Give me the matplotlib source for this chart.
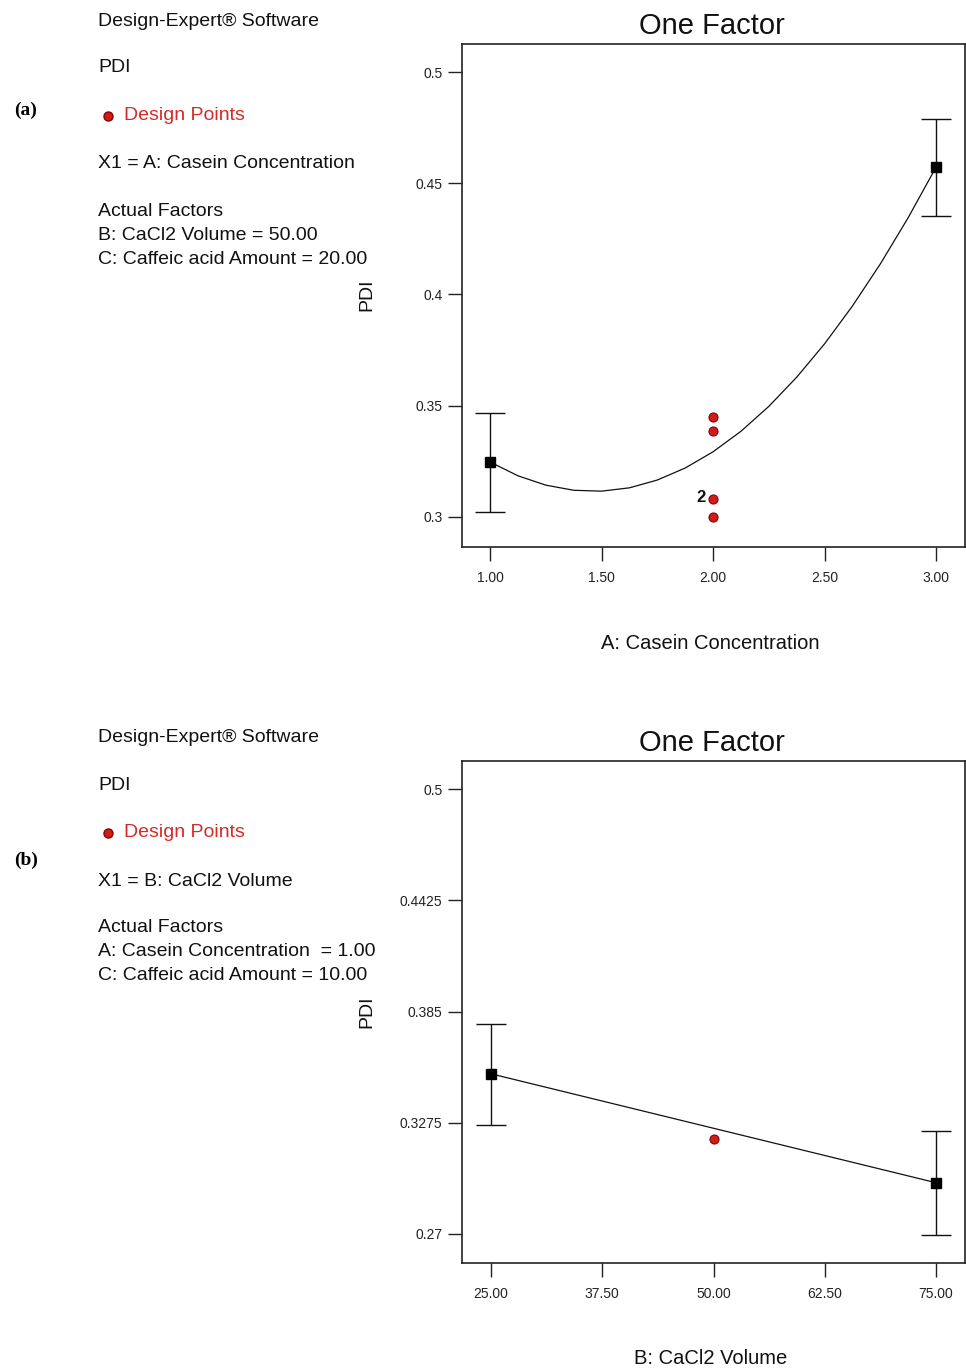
import matplotlib.pyplot as plt
from matplotlib.lines import Line2D

plt.rcParams['font.family'] = ['Liberation Sans', 'DejaVu Sans']

# panel (a): PDI vs A: Casein Concentration
a_xticks = [1.00, 1.50, 2.00, 2.50, 3.00]
a_yticks = [0.3, 0.35, 0.4, 0.45, 0.5]
a_curve_x = [1.0, 1.125, 1.25, 1.375, 1.5, 1.625, 1.75, 1.875, 2.0,
             2.125, 2.25, 2.375, 2.5, 2.625, 2.75, 2.875, 3.0]
a_curve_y = [0.3247, 0.3185, 0.3143, 0.3120, 0.3116, 0.3131, 0.3166, 0.3220, 0.3293,
             0.3385, 0.3497, 0.3628, 0.3778, 0.3948, 0.4137, 0.4345, 0.4572]
a_mean_x = [1.0, 3.0]
a_mean_y = [0.3247, 0.4572]
a_ci_lo = [0.3022, 0.4352]
a_ci_hi = [0.3467, 0.4788]
a_pts_x = [2.0, 2.0, 2.0, 2.0]
a_pts_y = [0.3449, 0.3387, 0.3081, 0.3001]

# panel (b): PDI vs B: CaCl2 Volume
b_xticks = [25.00, 37.50, 50.00, 62.50, 75.00]
b_yticks = [0.27, 0.3275, 0.385, 0.4425, 0.5]
b_ytick_labels = ['0.27', '0.3275', '0.385', '0.4425', '0.5']
b_line_x = [25.0, 75.0]
b_line_y = [0.3528, 0.2965]
b_ci_lo = [0.3265, 0.2695]
b_ci_hi = [0.3787, 0.3234]
b_pts_x = [50.0]
b_pts_y = [0.3191]

W, H = 966, 1372
fig = plt.figure(figsize=(W / 100, H / 100), dpi=100)


def fx(x):
    return x / W


def fy(y):
    return 1 - y / H


red = '#d21c1c'
red_txt = '#d42a2a'


def left_text(top, x1_line, factor_lines, tag, tag_y):
    fig.text(fx(98), fy(top), 'Design-Expert® Software', fontsize=14, va='center', color='#111')
    fig.text(fx(98), fy(top + 47), 'PDI', fontsize=14, va='center', color='#111')
    fig.add_artist(Line2D([fx(108)], [fy(top + 95)], marker='o', ms=6.5, color=red,
                          mec='#8a0000', transform=fig.transFigure))
    fig.text(fx(124), fy(top + 95), 'Design Points', fontsize=14, va='center', color=red_txt)
    fig.text(fx(98), fy(top + 143), x1_line, fontsize=14, va='center', color='#111')
    fig.text(fx(98), fy(top + 190), 'Actual Factors', fontsize=14, va='center', color='#111')
    for i, s in enumerate(factor_lines):
        fig.text(fx(98), fy(top + 214 + 24 * i), s, fontsize=14, va='center', color='#111')
    fig.text(fx(26), fy(tag_y), tag, fontsize=14, fontweight='bold', va='center', ha='center',
             family='Liberation Serif')


def style_axes(ax):
    for sp in ax.spines.values():
        sp.set_linewidth(1.2)
        sp.set_color('#222')
    ax.tick_params(axis='both', direction='out', length=10, width=1, color='#222',
                   labelsize=10, labelcolor='#222', top=False, right=False)
    ax.tick_params(axis='y', pad=4)
    ax.tick_params(axis='x', pad=7)


# ---- panel (a)
left_text(21, 'X1 = A: Casein Concentration',
          ['B: CaCl2 Volume = 50.00', 'C: Caffeic acid Amount = 20.00'], '(a)', 110)

ax1 = fig.add_axes([fx(462), fy(547), 503 / W, 503 / H])
ax1.plot(a_curve_x, a_curve_y, color='#111', lw=0.9)
ax1.errorbar(a_mean_x, a_mean_y,
             yerr=[[m - l for m, l in zip(a_mean_y, a_ci_lo)],
                   [h - m for m, h in zip(a_mean_y, a_ci_hi)]],
             fmt='s', ms=7, color='black', ecolor='#111', elinewidth=1, capsize=11, capthick=1)
ax1.plot(a_pts_x, a_pts_y, 'o', ms=6.5, color=red, mec='#8a0000', mew=0.8)
ax1.annotate('2', xy=(a_pts_x[2], a_pts_y[2]), xytext=(-12, 1), textcoords='offset pixels',
             ha='center', va='center', fontsize=12, fontweight='bold', color='#111')
ax1.set_xlim(0.874, 3.13)
ax1.set_ylim(0.2865, 0.5126)
ax1.set_xticks(a_xticks)
ax1.set_xticklabels(['%.2f' % v for v in a_xticks])
ax1.set_yticks(a_yticks)
ax1.set_yticklabels(['0.3', '0.35', '0.4', '0.45', '0.5'])
style_axes(ax1)
fig.text(fx(712), fy(26), 'One Factor', fontsize=21, ha='center', va='center', color='#111')
fig.text(fx(367), fy(295), 'PDI', fontsize=14, rotation=90, ha='center', va='center', color='#111')
fig.text(fx(710), fy(643), 'A: Casein Concentration', fontsize=14.5, ha='center', va='center',
         color='#111')

# ---- panel (b)
left_text(738, 'X1 = B: CaCl2 Volume',
          ['A: Casein Concentration  = 1.00', 'C: Caffeic acid Amount = 10.00'], '(b)', 860)

ax2 = fig.add_axes([fx(462), fy(1263), 503 / W, 502 / H])
ax2.plot(b_line_x, b_line_y, color='#111', lw=0.9)
ax2.errorbar(b_line_x, b_line_y,
             yerr=[[m - l for m, l in zip(b_line_y, b_ci_lo)],
                   [h - m for m, h in zip(b_line_y, b_ci_hi)]],
             fmt='s', ms=7, color='black', ecolor='#111', elinewidth=1, capsize=11, capthick=1)
ax2.plot(b_pts_x, b_pts_y, 'o', ms=6.5, color=red, mec='#8a0000', mew=0.8)
ax2.set_xlim(21.74, 78.26)
ax2.set_ylim(0.255, 0.5145)
ax2.set_xticks(b_xticks)
ax2.set_xticklabels(['%.2f' % v for v in b_xticks])
ax2.set_yticks(b_yticks)
ax2.set_yticklabels(b_ytick_labels)
style_axes(ax2)
fig.text(fx(712), fy(743), 'One Factor', fontsize=21, ha='center', va='center', color='#111')
fig.text(fx(367), fy(1012), 'PDI', fontsize=14, rotation=90, ha='center', va='center', color='#111')
fig.text(fx(711), fy(1359), 'B: CaCl2 Volume', fontsize=14.5, ha='center', va='center',
         color='#111')

fig.savefig('out.png', dpi=100)
